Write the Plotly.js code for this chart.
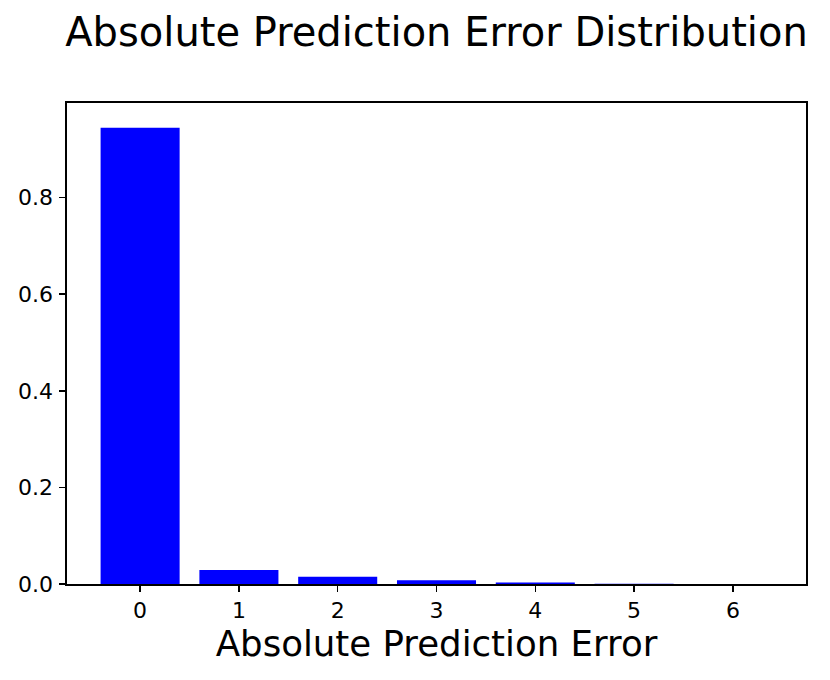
<!DOCTYPE html>
<html>
<head>
<meta charset="utf-8">
<script src="https://cdn.plot.ly/plotly-3.0.1.min.js"></script>
<style>
  html, body { margin: 0; padding: 0; background: #ffffff; }
  #chart { width: 830px; height: 680px; }
</style>
</head>
<body>
<div id="chart"></div>
<script>
// absolute error values and their share of predictions
var errors = [0, 1, 2, 3, 4, 5, 6];
var shares = [0.945, 0.029, 0.015, 0.008, 0.003, 0.0003, 0.0001];

var bars = {
  type: 'bar',
  x: errors,
  y: shares,
  width: 0.8,
  marker: { color: '#0000ff', line: { width: 0 } },
  hoverinfo: 'x+y'
};

var axisFont = { family: 'DejaVu Sans, sans-serif', size: 22, color: '#000000' };

var layout = {
  width: 830,
  height: 680,
  margin: { l: 67, r: 24, t: 103, b: 96 },
  paper_bgcolor: '#ffffff',
  plot_bgcolor: '#ffffff',
  showlegend: false,
  font: { family: 'DejaVu Sans, sans-serif', color: '#000000' },
  title: {
    text: 'Absolute Prediction Error Distribution',
    font: { family: 'DejaVu Sans, sans-serif', size: 40, color: '#000000' },
    x: 0.5,
    xref: 'paper',
    xanchor: 'center',
    y: 1 - 32 / 680,
    yref: 'container',
    yanchor: 'middle'
  },
  xaxis: {
    range: [-0.74, 6.74],
    tickmode: 'array',
    tickvals: errors,
    ticktext: errors.map(String),
    ticks: 'outside',
    ticklen: 6,
    tickwidth: 1.5,
    tickcolor: '#000000',
    tickfont: axisFont,
    showgrid: false,
    zeroline: false,
    showline: true,
    linecolor: '#000000',
    linewidth: 1.6,
    mirror: true,
    title: {
      text: 'Absolute Prediction Error',
      font: { family: 'DejaVu Sans, sans-serif', size: 35.6, color: '#000000' },
      standoff: 9
    }
  },
  yaxis: {
    range: [0, 0.996],
    tickmode: 'array',
    tickvals: [0, 0.2, 0.4, 0.6, 0.8],
    ticktext: ['0.0', '0.2', '0.4', '0.6', '0.8'],
    ticks: 'outside',
    ticklen: 6,
    tickwidth: 1.5,
    tickcolor: '#000000',
    tickfont: axisFont,
    ticklabelstandoff: 2,
    showgrid: false,
    zeroline: false,
    showline: true,
    linecolor: '#000000',
    linewidth: 1.6,
    mirror: true
  }
};

Plotly.newPlot('chart', [bars], layout, { displayModeBar: false, staticPlot: true });
</script>
</body>
</html>
